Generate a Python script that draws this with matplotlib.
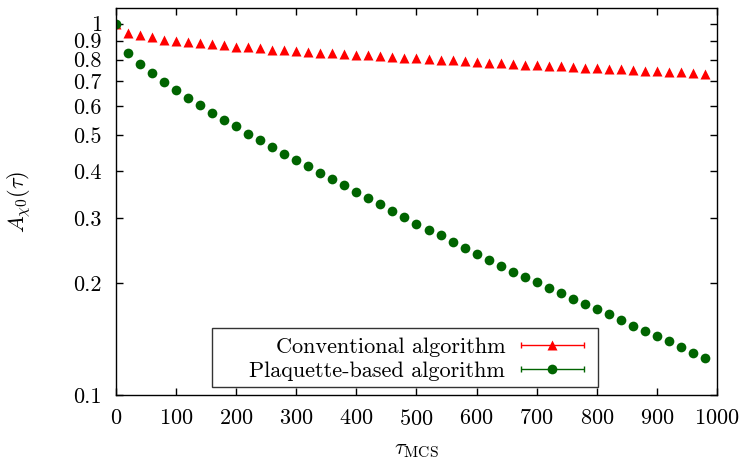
import numpy as np
import matplotlib
matplotlib.use("Agg")
import matplotlib.pyplot as plt
from matplotlib.ticker import FixedLocator, FixedFormatter, NullLocator
from matplotlib.legend_handler import HandlerErrorbar
from matplotlib.container import ErrorbarContainer
from matplotlib.patches import Rectangle

plt.rcParams.update({
    'font.family': 'cmr10', 'mathtext.fontset': 'cm', 'font.size': 16,
    'axes.formatter.use_mathtext': True,
    'xtick.direction': 'in', 'ytick.direction': 'in',
    'xtick.top': True, 'ytick.right': True,
    'axes.linewidth': 1.0,
})

tau = np.arange(0, 1000, 20)

# Conventional algorithm
conventional = [1.000, 0.944, 0.930, 0.918, 0.905, 0.898, 0.892, 0.887, 0.881, 0.876,
                0.868, 0.863, 0.858, 0.852, 0.847, 0.845, 0.840, 0.836, 0.833, 0.830,
                0.825, 0.821, 0.818, 0.814, 0.809, 0.806, 0.803, 0.798, 0.796, 0.793,
                0.789, 0.786, 0.783, 0.780, 0.776, 0.773, 0.770, 0.767, 0.764, 0.760,
                0.759, 0.756, 0.754, 0.751, 0.748, 0.746, 0.743, 0.741, 0.737, 0.734]

# Plaquette-based algorithm
plaquette = [1.000, 0.836, 0.780, 0.736, 0.697, 0.663, 0.632, 0.603, 0.576, 0.552,
             0.529, 0.506, 0.486, 0.466, 0.447, 0.430, 0.413, 0.396, 0.382, 0.367,
             0.353, 0.340, 0.326, 0.313, 0.301, 0.289, 0.279, 0.269, 0.258, 0.249,
             0.240, 0.231, 0.222, 0.215, 0.2075, 0.201, 0.194, 0.1887, 0.1817, 0.1758,
             0.1708, 0.1652, 0.1594, 0.1536, 0.1487, 0.1438, 0.1393, 0.1350, 0.1298, 0.1261]

yticks = [0.1, 0.2, 0.3, 0.4, 0.5, 0.6, 0.7, 0.8, 0.9, 1.0]
ytick_labels = ['0.1', '0.2', '0.3', '0.4', '0.5', '0.6', '0.7', '0.8', '0.9', '1']

red = '#ff0000'
green = '#006400'

fig = plt.figure(figsize=(7.45, 4.63), dpi=100)
ax = fig.add_axes([0.1557, 0.147, 0.8067, 0.835])

ax.plot(tau, conventional, '^', color=red, ms=7.6, mec='none')
ax.plot(tau, plaquette, 'o', color=green, ms=7.0, mec='none')

# proxies for the gnuplot-style errorbar key
h1 = ax.errorbar([np.nan], [np.nan], xerr=[1], fmt='^', color=red, ms=7.6,
                 mec='none', capsize=2.2, elinewidth=1, label='Conventional algorithm')
h2 = ax.errorbar([np.nan], [np.nan], xerr=[1], fmt='o', color=green, ms=7.0,
                 mec='none', capsize=2.2, elinewidth=1, label='Plaquette-based algorithm')

ax.set_yscale('log')
ax.set_xlim(0, 1000)
ax.set_ylim(0.1, 1.1)
ax.xaxis.set_major_locator(FixedLocator(np.arange(0, 1001, 100)))
ax.yaxis.set_major_locator(FixedLocator(yticks))
ax.yaxis.set_major_formatter(FixedFormatter(ytick_labels))
ax.yaxis.set_minor_locator(NullLocator())
ax.tick_params(length=5, width=1, pad=10)

ax.set_xlabel(r'$\tau_{\rm MCS}$')
ax.set_ylabel(r'$A_{\chi 0}(\tau)$')
ax.yaxis.set_label_coords(-0.138, 0.5)
ax.xaxis.set_label_coords(0.5, -0.118)

# key box drawn separately (gnuplot leaves extra room on the left)
ax.add_patch(Rectangle((0.1597, 0.0207), 0.6423, 0.1526, transform=ax.transAxes,
                       fill=False, edgecolor='#333333', lw=1.0, zorder=4))
leg = ax.legend(handles=[h1, h2], loc='lower right', bbox_to_anchor=(0.7787, 0.036),
                markerfirst=False, frameon=False,
                handlelength=2.84, borderpad=0.0, labelspacing=0.2, handletextpad=0.7,
                borderaxespad=0.0,
                handler_map={ErrorbarContainer: HandlerErrorbar(xerr_size=1.42)})

fig.savefig('out.png', dpi=100)
